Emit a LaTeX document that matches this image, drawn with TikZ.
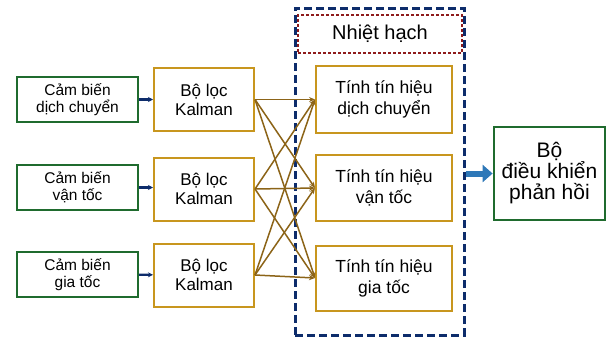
\documentclass[tikz,border=0pt]{standalone}
\usepackage{fontspec}
\setmainfont{Liberation Sans}
\usetikzlibrary{arrows.meta,calc}
\definecolor{sgreen}{HTML}{1F6B2E}
\definecolor{kgold}{HTML}{C8961E}
\definecolor{lbrown}{HTML}{8C6418}
\definecolor{cnavy}{HTML}{0D2C6B}
\definecolor{cred}{HTML}{8E1B1B}
\definecolor{barrow}{HTML}{2E78B8}
\begin{document}
\begin{tikzpicture}[x=1pt,y=-1pt,
  sensor/.style={draw=sgreen,line width=2.4pt,minimum width=121pt,minimum height=45pt,align=center,font=\fontsize{15.5}{17}\selectfont,inner sep=0pt},
  kbox/.style={draw=kgold,line width=2pt,minimum width=100pt,minimum height=63pt,align=center,font=\fontsize{17}{19}\selectfont,inner sep=0pt},
  tbox/.style={draw=kgold,line width=2pt,minimum width=136pt,minimum height=66pt,align=center,font=\fontsize{17.5}{21}\selectfont,inner sep=0pt},
  ctrl/.style={draw=sgreen,line width=2.8pt,minimum width=111pt,minimum height=93pt,align=center,font=\fontsize{21}{21}\selectfont,inner sep=0pt},
  sarrow/.style={draw=cnavy,line width=2.2pt,-{Stealth[length=5pt,width=5pt]}},
  karrow/.style={draw=lbrown,line width=1.5pt,-{Stealth[length=6pt,width=5pt]}},
  container/.style={draw=cnavy,line width=3pt,dash pattern=on 8pt off 4pt},
  fusion/.style={draw=cred,line width=1.8pt,dash pattern=on 3pt off 2pt,minimum width=164pt,minimum height=38pt,font=\fontsize{20}{22}\selectfont,inner sep=0pt},
  bigarrow/.style={draw=barrow,line width=6pt,-{Triangle[length=10pt,width=17pt]}}
]
\useasboundingbox (0,0) rectangle (612,338);

\node[sensor] (s1) at (77.5,99.5) {Cảm biến\\dịch chuyển};
\node[sensor] (s2) at (77.5,187.5) {Cảm biến\\vận tốc};
\node[sensor] (s3) at (77.5,274.5) {Cảm biến\\gia tốc};

\node[kbox] (k1) at (204,99.5) {Bộ lọc\\Kalman};
\node[kbox] (k2) at (204,189) {Bộ lọc\\Kalman};
\node[kbox] (k3) at (204,275) {Bộ lọc\\Kalman};

\node[container,minimum width=169pt,minimum height=327pt,inner sep=0pt] (c) at (379.5,171.5) {};
\node[fusion] (f) at (380,34) {Nhiệt hạch};

\node[tbox,minimum height=67pt] (t1) at (384,99.5) {Tính tín hiệu\\dịch chuyển};
\node[tbox] (t2) at (384,188) {Tính tín hiệu\\vận tốc};
\node[tbox,minimum height=65pt] (t3) at (384,278) {Tính tín hiệu\\gia tốc};

\node[ctrl] (u) at (549.5,173.5) {Bộ\\điều khiển\\phản hồi};

\draw[sarrow] (s1) -- (k1);
\draw[sarrow] (s2.east) -- (s2.east -| k2.west);
\draw[sarrow] (s3) -- (k3);

\foreach \k in {k1,k2,k3}{
  \foreach \t in {t1,t2,t3}{
    \draw[karrow] (\k.east) -- (\t.west);
  }
}

\draw[bigarrow] (c.east |- u.west) -- (u.west);
\end{tikzpicture}
\end{document}
